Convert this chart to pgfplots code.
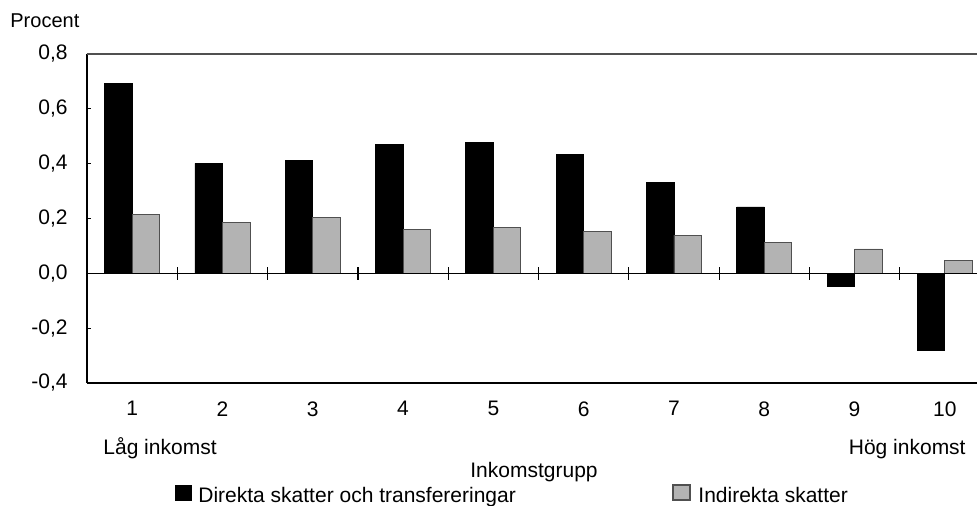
\documentclass[border=0pt]{standalone}
\usepackage{fontspec}
\setmainfont{Liberation Sans}
\usepackage{pgfplots}
\pgfplotsset{compat=1.18}
\definecolor{barGray}{RGB}{179,179,179}
\definecolor{edgeGray}{RGB}{80,80,80}
\begin{document}
\fontsize{10.5}{12.6}\selectfont
\begin{tikzpicture}
\begin{axis}[
  name=ax,
  scale only axis,
  width=445pt, height=164.5pt,
  xmin=0.5, xmax=10.356,
  ymin=-0.4, ymax=0.8,
  axis lines*=left,
  axis line style={-, black, line width=0.6pt},
  ybar=0pt, bar width=13.75pt,
  xtick={1,2,3,4,5,6,7,8,9,10},
  xticklabels={1,2,3,4,5,6,7,8,9,10},
  xtick style={draw=none},
  xticklabel style={anchor=north, inner sep=0pt, yshift=-9pt},
  ytick={-0.4,-0.2,0,0.2,0.4,0.6,0.8},
  yticklabels={{-0,4},{-0,2},{0,0},{0,2},{0,4},{0,6},{0,8}},
  ytick style={black, line width=0.6pt},
  tick align=inside,
  major tick length=2pt,
  yticklabel style={anchor=east, inner sep=0pt, xshift=-9.5pt},
  clip=false,
]
\addplot[fill=black, draw=black] coordinates {
  (1,0.691) (2,0.401) (3,0.411) (4,0.469) (5,0.477)
  (6,0.433) (7,0.330) (8,0.242) (9,-0.049) (10,-0.280)};
\addplot[fill=barGray, draw=edgeGray] coordinates {
  (1,0.215) (2,0.187) (3,0.203) (4,0.161) (5,0.167)
  (6,0.152) (7,0.139) (8,0.114) (9,0.089) (10,0.046)};
\draw[black, line width=0.6pt] (axis cs:0.5,0) -- (axis cs:10.356,0);
\pgfplotsinvokeforeach{1.5,2.5,3.5,4.5,5.5,6.5,7.5,8.5,9.5}{
  \draw[black, line width=0.6pt] ([yshift=-3.3pt]axis cs:#1,0) -- ([yshift=3pt]axis cs:#1,0);
}
\draw[edgeGray, line width=0.8pt] (rel axis cs:0,1) -- (rel axis cs:1,1);
\end{axis}
\begin{scope}[x=0.5pt, y=-0.5pt, shift={(ax.north west)}, shift={(-87,-54)}]
  \node[anchor=base west, inner sep=0pt, font=\fontsize{10}{12}\selectfont] at (10,28) {Procent};
  \node[anchor=base west, inner sep=0pt] at (103,455) {Låg inkomst};
  \node[anchor=base east, inner sep=0pt] at (966,455) {Hög inkomst};
  \node[anchor=base west, inner sep=0pt] at (470,478) {Inkomstgrupp};
  \fill[black] (175,485) rectangle (192,501);
  \node[anchor=base west, inner sep=0pt] at (198,503) {Direkta skatter och transfereringar};
  \filldraw[fill=barGray, draw=edgeGray, line width=0.6pt] (673,485) rectangle (690,500);
  \node[anchor=base west, inner sep=0pt] at (698,503) {Indirekta skatter};
  \pgfresetboundingbox
  \path[use as bounding box] (0,0) rectangle (977,506);
\end{scope}
\end{tikzpicture}
\end{document}
